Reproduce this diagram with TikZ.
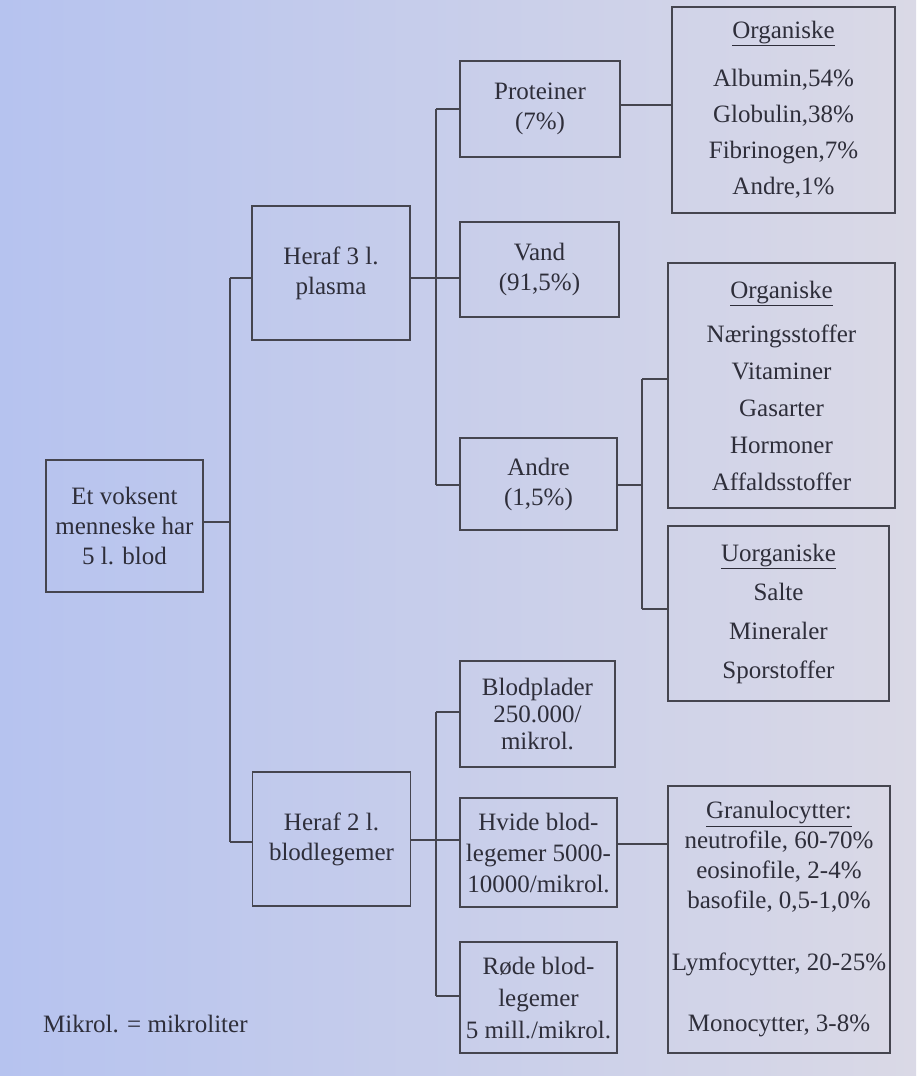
\documentclass[tikz,border=0pt]{standalone}
\usepackage{fontspec}
\setmainfont{Liberation Serif}
\usetikzlibrary{calc}
\definecolor{bgL}{HTML}{B6C3EF}
\definecolor{bgR}{HTML}{DAD9E6}
\definecolor{ink}{HTML}{2E2E3A}
\definecolor{linec}{HTML}{45454F}
\begin{document}
\begin{tikzpicture}[x=1pt,y=-1pt,
  font=\fontsize{25}{30}\selectfont,
  box/.style={draw=linec, line width=1.6pt, inner sep=0pt, outer sep=0pt, align=center, text=ink},
  conn/.style={draw=linec, line width=1.2pt}]
\shade[left color=bgL, right color=bgR] (0,0) rectangle (916,1076);
\useasboundingbox (0,0) rectangle (916,1076);

% level 0
\node[box, minimum width=157pt, minimum height=132pt] (root) at (124.5,526) {Et voksent\\menneske har\\5 l. blod};
% level 1
\node[box, minimum width=158pt, minimum height=134pt] (plasma) at (331,273) {Heraf 3 l.\\plasma};
\node[box, minimum width=158pt, minimum height=134pt] (blod) at (331.5,839) {Heraf 2 l.\\blodlegemer};
% level 2 (plasma)
\node[box, minimum width=160pt, minimum height=96pt] (prot) at (540,109) {Proteiner\\(7\%)};
\node[box, minimum width=159pt, minimum height=95pt] (vand) at (539.5,269.5) {Vand\\(91,5\%)};
\node[box, minimum width=157pt, minimum height=92pt] (andre) at (538.5,484) {Andre\\(1,5\%)};
% level 2 (blodlegemer)
\node[box, minimum width=155pt, minimum height=106pt, font=\fontsize{25}{27}\selectfont] (blodpl) at (537.5,714) {Blodplader\\250.000/\\mikrol.};
\node[box, minimum width=157pt, minimum height=109pt, font=\fontsize{25}{31}\selectfont] (hvide) at (538.5,852.5) {Hvide blod-\\legemer 5000-\\10000/mikrol.};
\node[box, minimum width=157pt, minimum height=111pt, font=\fontsize{25}{32}\selectfont] (rode) at (538.5,997.5) {Røde blod-\\legemer\\5 mill./mikrol.};
% level 3
\node[box, minimum width=223pt, minimum height=206pt, font=\fontsize{25}{36}\selectfont] (org1) at (783.5,110) {\underline{Organiske}\\[12pt]Albumin,54\%\\Globulin,38\%\\Fibrinogen,7\%\\Andre,1\%};
\node[box, minimum width=227pt, minimum height=245pt, font=\fontsize{25}{37}\selectfont] (org2) at (781.5,385.5) {\underline{Organiske}\\[7pt]Næringsstoffer\\Vitaminer\\Gasarter\\Hormoner\\Affaldsstoffer};
\node[box, minimum width=221pt, minimum height=175pt, font=\fontsize{25}{39}\selectfont] (uorg) at (778.5,613.5) {\underline{Uorganiske}\\Salte\\Mineraler\\Sporstoffer};
\node[box, minimum width=222pt, minimum height=267pt, font=\fontsize{25}{30}\selectfont] (gran) at (779,919.5) {\underline{Granulocytter:}\\neutrofile, 60-70\%\\eosinofile, 2-4\%\\basofile, 0,5-1,0\%\\[32pt]Lymfocytter, 20-25\%\\[31pt]Monocytter, 3-8\%};

\node[anchor=base west, text=ink, inner sep=0pt] (note) at (43,1032) {Mikrol. = mikroliter};

% junctions
\coordinate (j0) at (230,522);
\coordinate (j1) at (230,278);
\coordinate (j2) at (230,842);
\coordinate (k0) at (436,278);
\coordinate (k1) at (436,109);
\coordinate (k2) at (436,485);
\coordinate (p1) at (640,105);
\coordinate (m0) at (642,485);
\coordinate (m1) at (642,379);
\coordinate (m2) at (642,609);
\coordinate (n0) at (436,840);
\coordinate (n1) at (436,712);
\coordinate (n2) at (436,996);
\coordinate (h0) at (640,844);

% connectors
\draw[conn] (root.east |- j0) -- (j0);
\draw[conn] (j1) -- (j2);
\draw[conn] (j1) -- (j1 -| plasma.west);
\draw[conn] (j2) -- (j2 -| blod.west);

\draw[conn] (plasma.east |- k0) -- (k0 -| vand.west);
\draw[conn] (k1) -- (k2);
\draw[conn] (k1) -- (k1 -| prot.west);
\draw[conn] (k2) -- (k2 -| andre.west);
\draw[conn] (prot.east |- p1) -- (p1 -| org1.west);

\draw[conn] (andre.east |- m0) -- (m0);
\draw[conn] (m1) -- (m2);
\draw[conn] (m1) -- (m1 -| org2.west);
\draw[conn] (m2) -- (m2 -| uorg.west);

\draw[conn] (blod.east |- n0) -- (n0 -| hvide.west);
\draw[conn] (n1) -- (n2);
\draw[conn] (n1) -- (n1 -| blodpl.west);
\draw[conn] (n2) -- (n2 -| rode.west);
\draw[conn] (hvide.east |- h0) -- (h0 -| gran.west);
\end{tikzpicture}
\end{document}
